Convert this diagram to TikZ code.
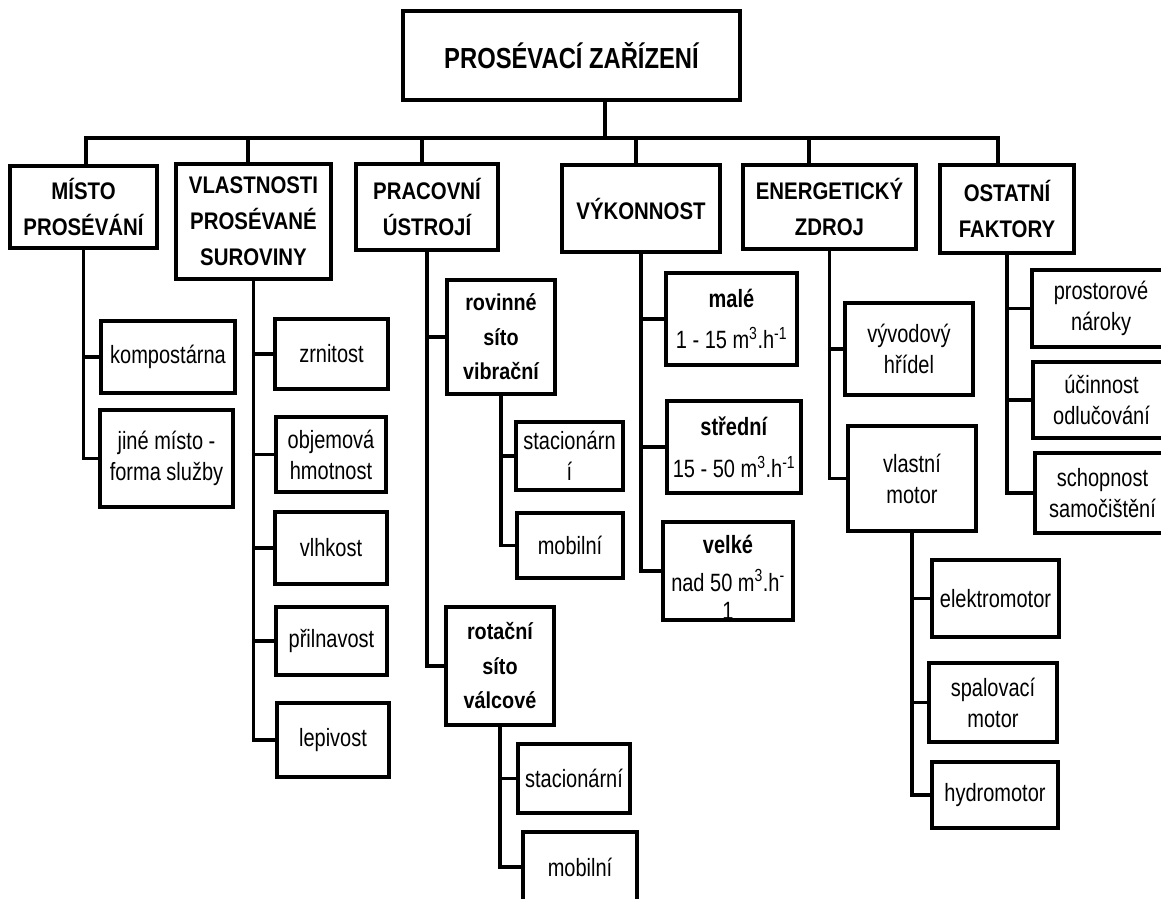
\documentclass[tikz,border=0pt]{standalone}
\usepackage{fontspec}
\setmainfont{Liberation Sans}
\newfontfamily\titlefam[FakeStretch=0.82]{Liberation Sans}
\newfontfamily\headfam[FakeStretch=0.85]{Liberation Sans}
\newfontfamily\subfam[FakeStretch=0.86]{Liberation Sans}
\newfontfamily\leaffam[FakeStretch=0.8]{Liberation Sans}

\begin{document}
\begin{tikzpicture}[x=1pt,y=-1pt,
  box/.style={draw, line width=3.6pt, inner sep=0pt, align=center},
  titlebox/.style={box, font=\titlefam\bfseries\fontsize{29}{35}\selectfont},
  headbox/.style={box, font=\headfam\bfseries\fontsize{24}{36}\selectfont},
  subbox/.style={box, font=\subfam\bfseries\fontsize{23}{34.5}\selectfont},
  leafbox/.style={box, font=\leaffam\fontsize{25}{31}\selectfont},
  conn/.style={line width=3.2pt, line join=miter}
]
\useasboundingbox (0,0) rectangle (1161,898);
\fill[white] (0,0) rectangle (1161,898);

% root
\node[titlebox, minimum width=337pt, minimum height=89pt] (root) at (571.5,55.5) {PROSÉVACÍ ZAŘÍZENÍ};

% main categories
\node[headbox, minimum width=147pt, minimum height=82pt]  (misto) at (83.5,207)   {MÍSTO\\PROSÉVÁNÍ};
\node[headbox, minimum width=155pt, minimum height=115pt] (vlast) at (253.5,221.5) {VLASTNOSTI\\PROSÉVANÉ\\SUROVINY};
\node[headbox, minimum width=142pt, minimum height=86pt]  (prac)  at (427,207)     {PRACOVNÍ\\ÚSTROJÍ};
\node[headbox, minimum width=158pt, minimum height=87pt]  (vyk)   at (641,208.5)   {VÝKONNOST};
\node[headbox, minimum width=173pt, minimum height=84pt]  (ener)  at (829.5,207)   {ENERGETICKÝ\\ZDROJ};
\node[headbox, minimum width=134pt, minimum height=88pt]  (ost)   at (1007,209)    {OSTATNÍ\\FAKTORY};

% place of screening
\node[leafbox, minimum width=134pt, minimum height=72pt] (komp) at (168,357)    {kompostárna};
\node[leafbox, minimum width=133pt, minimum height=97pt] (jine) at (166.5,458.5) {jiné místo -\\forma služby};

% material properties
\node[leafbox, minimum width=113pt, minimum height=70pt] (zrn)  at (331.5,354)   {zrnitost};
\node[leafbox, minimum width=110pt, minimum height=75pt] (obj)  at (331,454.5)   {objemová\\hmotnost};
\node[leafbox, minimum width=112pt, minimum height=72pt] (vlh)  at (331,548)     {vlhkost};
\node[leafbox, minimum width=111pt, minimum height=68pt] (pril) at (331.5,641)   {přilnavost};
\node[leafbox, minimum width=112pt, minimum height=74pt] (lep)  at (333,740)     {lepivost};

% working part
\node[subbox,  minimum width=108pt, minimum height=114pt] (rov)   at (501,337)   {rovinné\\síto\\vibrační};
\node[leafbox, minimum width=107pt, minimum height=68pt]  (stA)   at (569.5,456) {stacionárn\\í};
\node[leafbox, minimum width=106pt, minimum height=65pt]  (mobA)  at (570,545.5) {mobilní};
\node[subbox,  minimum width=108pt, minimum height=118pt] (rot)   at (500,666)   {rotační\\síto\\válcové};
\node[leafbox, minimum width=112pt, minimum height=69pt]  (stB)   at (574,778.5) {stacionární};
\node[leafbox, minimum width=114pt, minimum height=70pt]  (mobB)  at (580,867)   {mobilní};

% capacity
\node[leafbox, minimum width=131pt, minimum height=92pt] (male) at (731.5,319)
  {\textbf{malé}\\[10pt]1 - 15 m\textsuperscript{3}.h\textsuperscript{-1}};
\node[leafbox, minimum width=134pt, minimum height=92pt] (stred) at (734,447)
  {\textbf{střední}\\[11pt]15 - 50 m\textsuperscript{3}.h\textsuperscript{-1}};
\node[leafbox, minimum width=130pt, minimum height=98pt] (velk) at (728,571)
  {\rule{0pt}{30pt}\textbf{velké}\\[7pt]nad 50 m\textsuperscript{3}.h\textsuperscript{-}\\[-3pt]1};

% power source
\node[leafbox, minimum width=128pt, minimum height=92pt]  (vyv)  at (909,349)    {vývodový\\hřídel};
\node[leafbox, minimum width=128pt, minimum height=105pt] (vmot) at (912,478.5)  {vlastní\\motor};
\node[leafbox, minimum width=127pt, minimum height=77pt]  (elek) at (995.5,598.5) {elektromotor};
\node[leafbox, minimum width=128pt, minimum height=79pt]  (spal) at (993,702.5)  {spalovací\\motor};
\node[leafbox, minimum width=126pt, minimum height=66pt]  (hydr) at (995,795)    {hydromotor};

% other factors
\node[leafbox, minimum width=138pt, minimum height=77pt] (pros) at (1101,308.5)  {prostorové\\nároky};
\node[leafbox, minimum width=137pt, minimum height=76pt] (ucin) at (1101.5,400)  {účinnost\\odlučování};
\node[leafbox, minimum width=135pt, minimum height=80pt] (schop) at (1102.5,493) {schopnost\\samočištění};

% trunk and bar
\coordinate (trunk) at (605,138);
\coordinate (j1) at (86,138);
\coordinate (j2) at (248,138);
\coordinate (j3) at (422,138);
\coordinate (j4) at (636,138);
\coordinate (j5) at (809,138);
\coordinate (j6) at (998,138);
\draw[conn] ([xshift=33.5pt]root.south) -- (trunk);
\draw[conn] (j1 |- misto.north) -- (j1) -- (j6) -- (j6 |- ost.north);
\draw[conn] (j2) -- (j2 |- vlast.north);
\draw[conn] (j3) -- (j3 |- prac.north);
\draw[conn] (j4) -- (j4 |- vyk.north);
\draw[conn] (j5) -- (j5 |- ener.north);

% branches
\foreach \p/\c in {misto/komp, misto/jine,
                   vlast/zrn, vlast/obj, vlast/vlh, vlast/pril, vlast/lep,
                   prac/rov, prac/rot, rov/stA, rov/mobA, rot/stB, rot/mobB,
                   vyk/male, vyk/stred, vyk/velk,
                   ener/vyv, ener/vmot, vmot/elek, vmot/spal, vmot/hydr,
                   ost/pros, ost/ucin, ost/schop}
  \draw[conn] (\p.south) |- (\c.west);
\end{tikzpicture}
\end{document}
